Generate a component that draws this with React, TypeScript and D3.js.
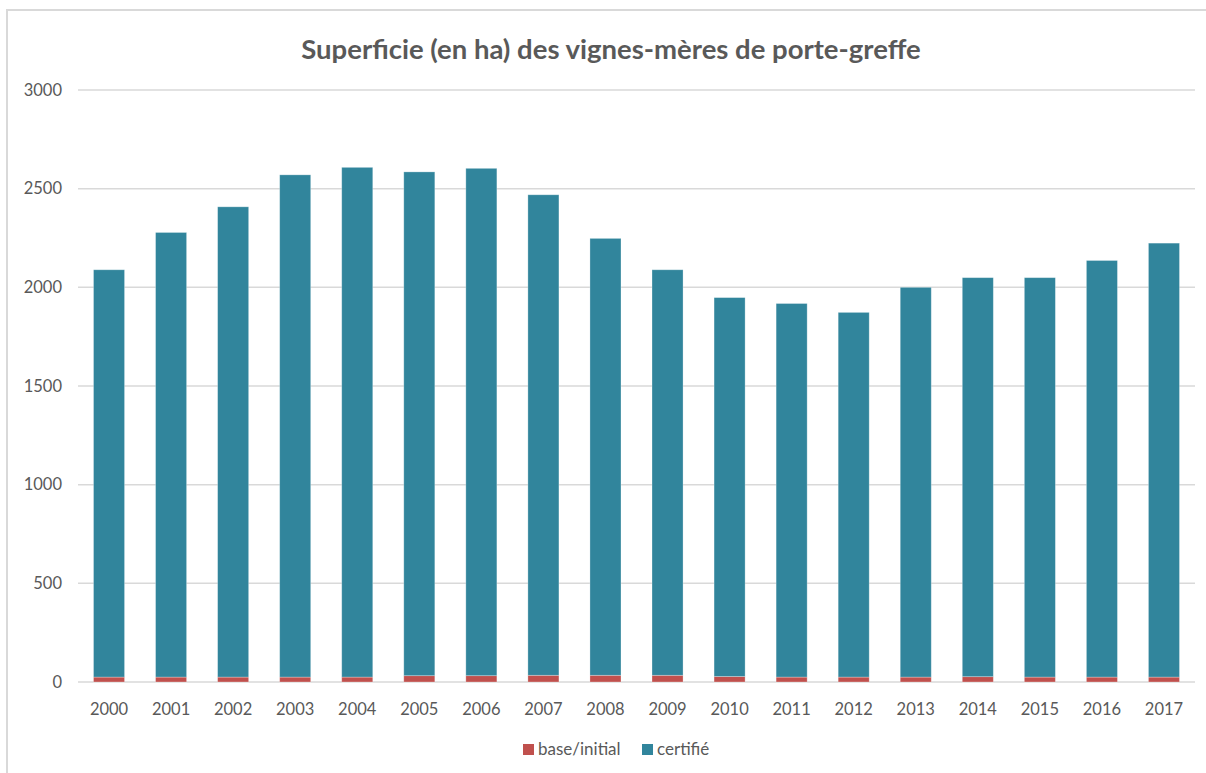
import React, { useEffect, useRef } from "react";
import * as d3 from "d3";

const years = ["2000", "2001", "2002", "2003", "2004", "2005", "2006", "2007", "2008", "2009", "2010", "2011", "2012", "2013", "2014", "2015", "2016", "2017"];
const baseInitial = [25, 25, 25, 25, 25, 32, 32, 34, 34, 34, 28, 25, 25, 25, 27, 25, 25, 25];
const certifie = [2064, 2253, 2383, 2545, 2583, 2553, 2571, 2435, 2214, 2055, 1920, 1893, 1848, 1975, 2022, 2024, 2111, 2199];
const yTicks = [0, 500, 1000, 1500, 2000, 2500, 3000];
const seriesNames = ["base/initial", "certifié"];
const colors = ["#C0504D", "#31859C"];

const W = 1206;
const H = 773;
const margin = { top: 90, right: 11, bottom: 91, left: 78 };
const FONT = "Lato, 'Open Sans', sans-serif";

const App = () => {
  const ref = useRef(null);

  useEffect(() => {
    const root = d3.select(ref.current);
    root.selectAll("*").remove();
    const svg = root.append("svg").attr("width", W).attr("height", H).style("display", "block");

    // chart frame
    svg.append("rect").attr("x", 7).attr("y", 10).attr("width", W + 20).attr("height", H + 20)
      .attr("fill", "#fff").attr("stroke", "#d9d9d9").attr("stroke-width", 2);

    const width = W - margin.left - margin.right;
    const height = H - margin.top - margin.bottom;
    const g = svg.append("g").attr("transform", `translate(${margin.left},${margin.top})`);

    const x = d3.scaleBand().domain(years).range([0, width]).paddingInner(0.5).paddingOuter(0.25);
    const y = d3.scaleLinear().domain([0, 3000]).range([height, 0]);

    // gridlines
    g.append("g").selectAll("line").data(yTicks).join("line")
      .attr("x1", 0).attr("x2", width)
      .attr("y1", (d) => y(d)).attr("y2", (d) => y(d))
      .attr("stroke", "#d9d9d9").attr("stroke-width", 1.5);

    g.append("g").selectAll("text").data(yTicks).join("text")
      .attr("x", -16).attr("y", (d) => y(d)).attr("dy", "0.35em")
      .attr("text-anchor", "end").attr("fill", "#595959")
      .style("font-family", FONT).style("font-size", "16.5px")
      .text((d) => d);

    const rows = years.map((yr, i) => ({ year: yr, base: baseInitial[i], cert: certifie[i] }));
    const stack = d3.stack().keys(["base", "cert"]);
    const layers = stack(rows as any);

    g.append("g").selectAll("g").data(layers).join("g")
      .attr("fill", (_d, i) => colors[i])
      .selectAll("rect").data((d) => d).join("rect")
      .attr("x", (d: any) => x(d.data.year))
      .attr("width", x.bandwidth())
      .attr("y", (d) => y(d[1]))
      .attr("height", (d) => y(d[0]) - y(d[1]))
      .attr("stroke", "#ffffff").attr("stroke-opacity", 0.35).attr("stroke-width", 0.8);

    // x labels
    g.append("g").selectAll("text").data(years).join("text")
      .attr("x", (d) => x(d) + x.bandwidth() / 2).attr("y", height + 33)
      .attr("text-anchor", "middle").attr("fill", "#595959")
      .style("font-family", FONT).style("font-size", "16.5px")
      .text((d) => d);

    // title
    svg.append("text").attr("x", 611).attr("y", 59).attr("text-anchor", "middle")
      .attr("fill", "#595959").style("font-family", FONT).style("font-size", "27.5px").style("font-weight", "bold")
      .text("Superficie (en ha) des vignes-mères de porte-greffe");

    // legend
    const legendX = [523, 642];
    const lg = svg.append("g").selectAll("g").data(seriesNames).join("g")
      .attr("transform", (_d, i) => `translate(${legendX[i]},744)`);
    lg.append("rect").attr("width", 11).attr("height", 11).attr("fill", (_d, i) => colors[i]);
    lg.append("text").attr("x", 15).attr("y", 5.5).attr("dy", "0.35em").attr("fill", "#595959")
      .style("font-family", FONT).style("font-size", "17px").text((d) => d);
  }, []);

  return <div ref={ref} style={{ position: "absolute", left: 0, top: 0 }}></div>;
};

export default App;
